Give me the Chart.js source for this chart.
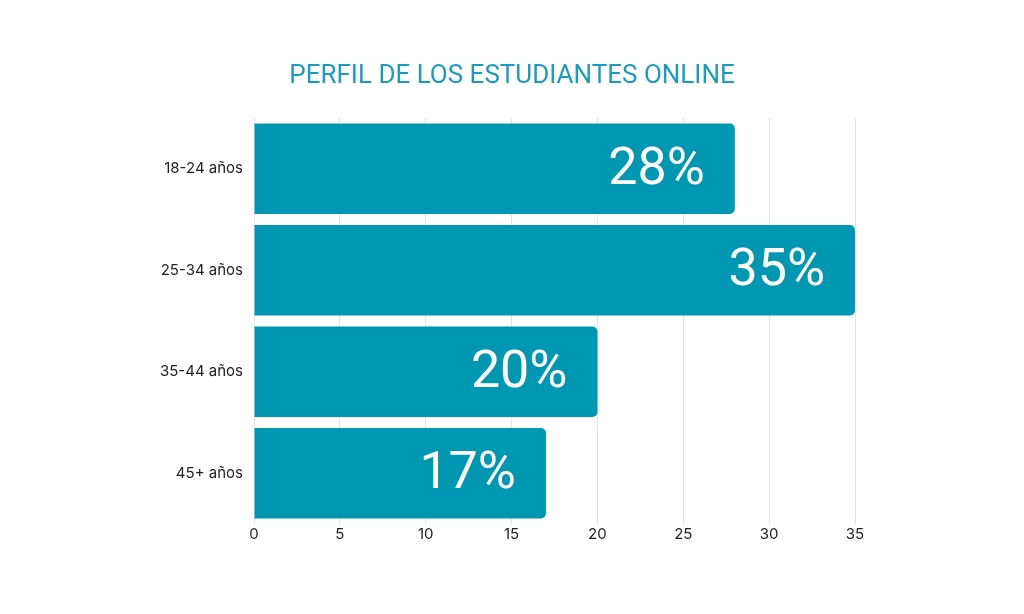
<!DOCTYPE html>
<html><head><meta charset="utf-8">
<script src="https://cdn.jsdelivr.net/npm/chart.js@4"></script>
<style>html,body{margin:0;padding:0;background:#fff}#w{width:1024px;height:614px}</style>
</head><body><div id="w"><canvas id="c"></canvas></div>
<script>
const categories = ["18-24 años", "25-34 años", "35-44 años", "45+ años"];
const values = [28, 35, 20, 17];
const valueLabels = ["28%", "35%", "20%", "17%"];
const xTicks = [0, 5, 10, 15, 20, 25, 30, 35];
const titleText = "PERFIL DE LOS ESTUDIANTES ONLINE";

const labelPlugin = {
  id: 'barLabels',
  afterDatasetsDraw(chart) {
    const ctx = chart.ctx;
    const meta = chart.getDatasetMeta(0);
    ctx.save();
    ctx.fillStyle = '#ffffff';
    ctx.font = '400 52px Roboto, Inter, sans-serif';
    ctx.textAlign = 'right';
    ctx.textBaseline = 'middle';
    meta.data.forEach((bar, i) => {
      ctx.fillText(valueLabels[i], bar.x - 30, bar.y + 2);
    });
    ctx.restore();
  },
  afterDraw(chart) {
    const ctx = chart.ctx;
    ctx.save();
    ctx.fillStyle = '#1a9bbf';
    ctx.font = '400 26px Roboto, Inter, sans-serif';
    ctx.textAlign = 'center';
    ctx.textBaseline = 'middle';
    ctx.fillText(titleText, chart.width / 2, 76);
    ctx.restore();
  }
};

new Chart(document.getElementById('c'), {
  type: 'bar',
  data: {
    labels: categories,
    datasets: [{
      data: values,
      backgroundColor: '#0097b2',
      borderRadius: {topRight: 5, bottomRight: 5, topLeft: 0, bottomLeft: 0},
      borderSkipped: false,
      barPercentage: 0.89,
      categoryPercentage: 1.0
    }]
  },
  options: {
    indexAxis: 'y',
    responsive: true,
    maintainAspectRatio: false,
    animation: false,
    layout: { padding: { top: 118, right: 169, bottom: 60, left: 0 } },
    plugins: {
      legend: { display: false },
      tooltip: { enabled: false },
      title: { display: false }
    },
    scales: {
      x: {
        min: 0, max: 35,
        afterBuildTicks(scale) { scale.ticks = xTicks.map(v => ({ value: v })); },
        afterFit(scale) { scale.height = 30; },
        grid: { color: '#e3e3e3', drawTicks: false, lineWidth: 1 },
        border: { display: false },
        ticks: { color: '#222', padding: 1, font: { family: 'Inter, Roboto, sans-serif', size: 15 } }
      },
      y: {
        afterFit(scale) { scale.width = 254; },
        grid: { display: false, drawTicks: false },
        border: { display: false },
        ticks: { color: '#222', padding: 11, font: { family: 'Inter, Roboto, sans-serif', size: 15 } }
      }
    }
  },
  plugins: [labelPlugin]
});
</script></body></html>
